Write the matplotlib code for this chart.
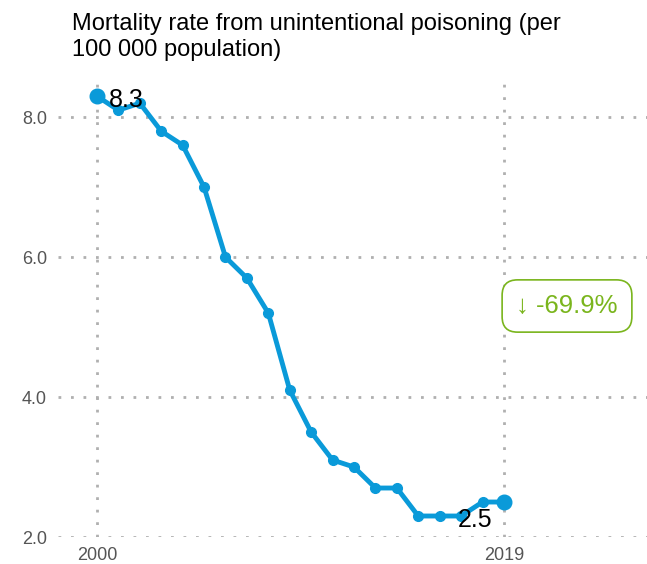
import matplotlib
matplotlib.use("Agg")
import matplotlib.pyplot as plt

plt.rcParams['font.family'] = ['Liberation Sans', 'DejaVu Sans']

years = list(range(2000, 2020))
values = [8.3, 8.1, 8.2, 7.8, 7.6, 7.0, 6.0, 5.7, 5.2, 4.1, 3.5, 3.1, 3.0, 2.7, 2.7, 2.3, 2.3, 2.3, 2.5, 2.5]
yticks = [2.0, 4.0, 6.0, 8.0]
xticks = [2000, 2019]
title = "Mortality rate from unintentional poisoning (per\n100 000 population)"
change_label = "\u2193 -69.9%"

blue = "#0a9ad9"
green = "#7ab51d"
grid_c = "#b0b0b0"

fig = plt.figure(figsize=(6.47, 5.64), dpi=100)
ax = fig.add_axes([58/647, 27/564, 1 - 58/647, (537-78)/564])
ax.set_xlim(1998.18, 2025.68)
ax.set_ylim(2.0, 8.56)

for y in yticks:
    ax.axhline(y, color=grid_c, lw=2, ls=(0, (1, 3.5)), zorder=0)
for x in xticks:
    ax.axvline(x, color=grid_c, lw=2, ls=(0, (1, 3.5)), zorder=0)

ax.plot(years, values, color=blue, lw=3.5, marker='o', ms=7, zorder=3)
ax.plot([years[0], years[-1]], [values[0], values[-1]], ls='none', marker='o', ms=10.5, color=blue, zorder=4)

ax.text(years[0] + 0.55, values[0] - 0.05, f"{values[0]:.1f}", fontsize=18, va='center', ha='left', zorder=5)
ax.text(years[-1] - 0.55, values[-1] - 0.25, f"{values[-1]:.1f}", fontsize=18, va='center', ha='right', zorder=5)

ax.set_yticks(yticks)
ax.set_yticklabels([f"{v:.1f}" for v in yticks])
ax.set_xticks(xticks)
ax.set_xticklabels([str(v) for v in xticks])
ax.tick_params(length=0, labelsize=13, labelcolor="#555555", pad=8)
ax.tick_params(axis='x', pad=7)
for s in ax.spines.values():
    s.set_visible(False)

fig.text(72/647, 1 - 13/564, title, fontsize=17, va='top', ha='left', linespacing=1.25)

fig.text(567/647, 1 - 306/564, change_label, fontsize=18.5, color=green, ha='center', va='center',
         bbox=dict(boxstyle="round,pad=0.55,rounding_size=0.6", fc='white', ec=green, lw=1.2))

fig.savefig("out.png", dpi=100)
